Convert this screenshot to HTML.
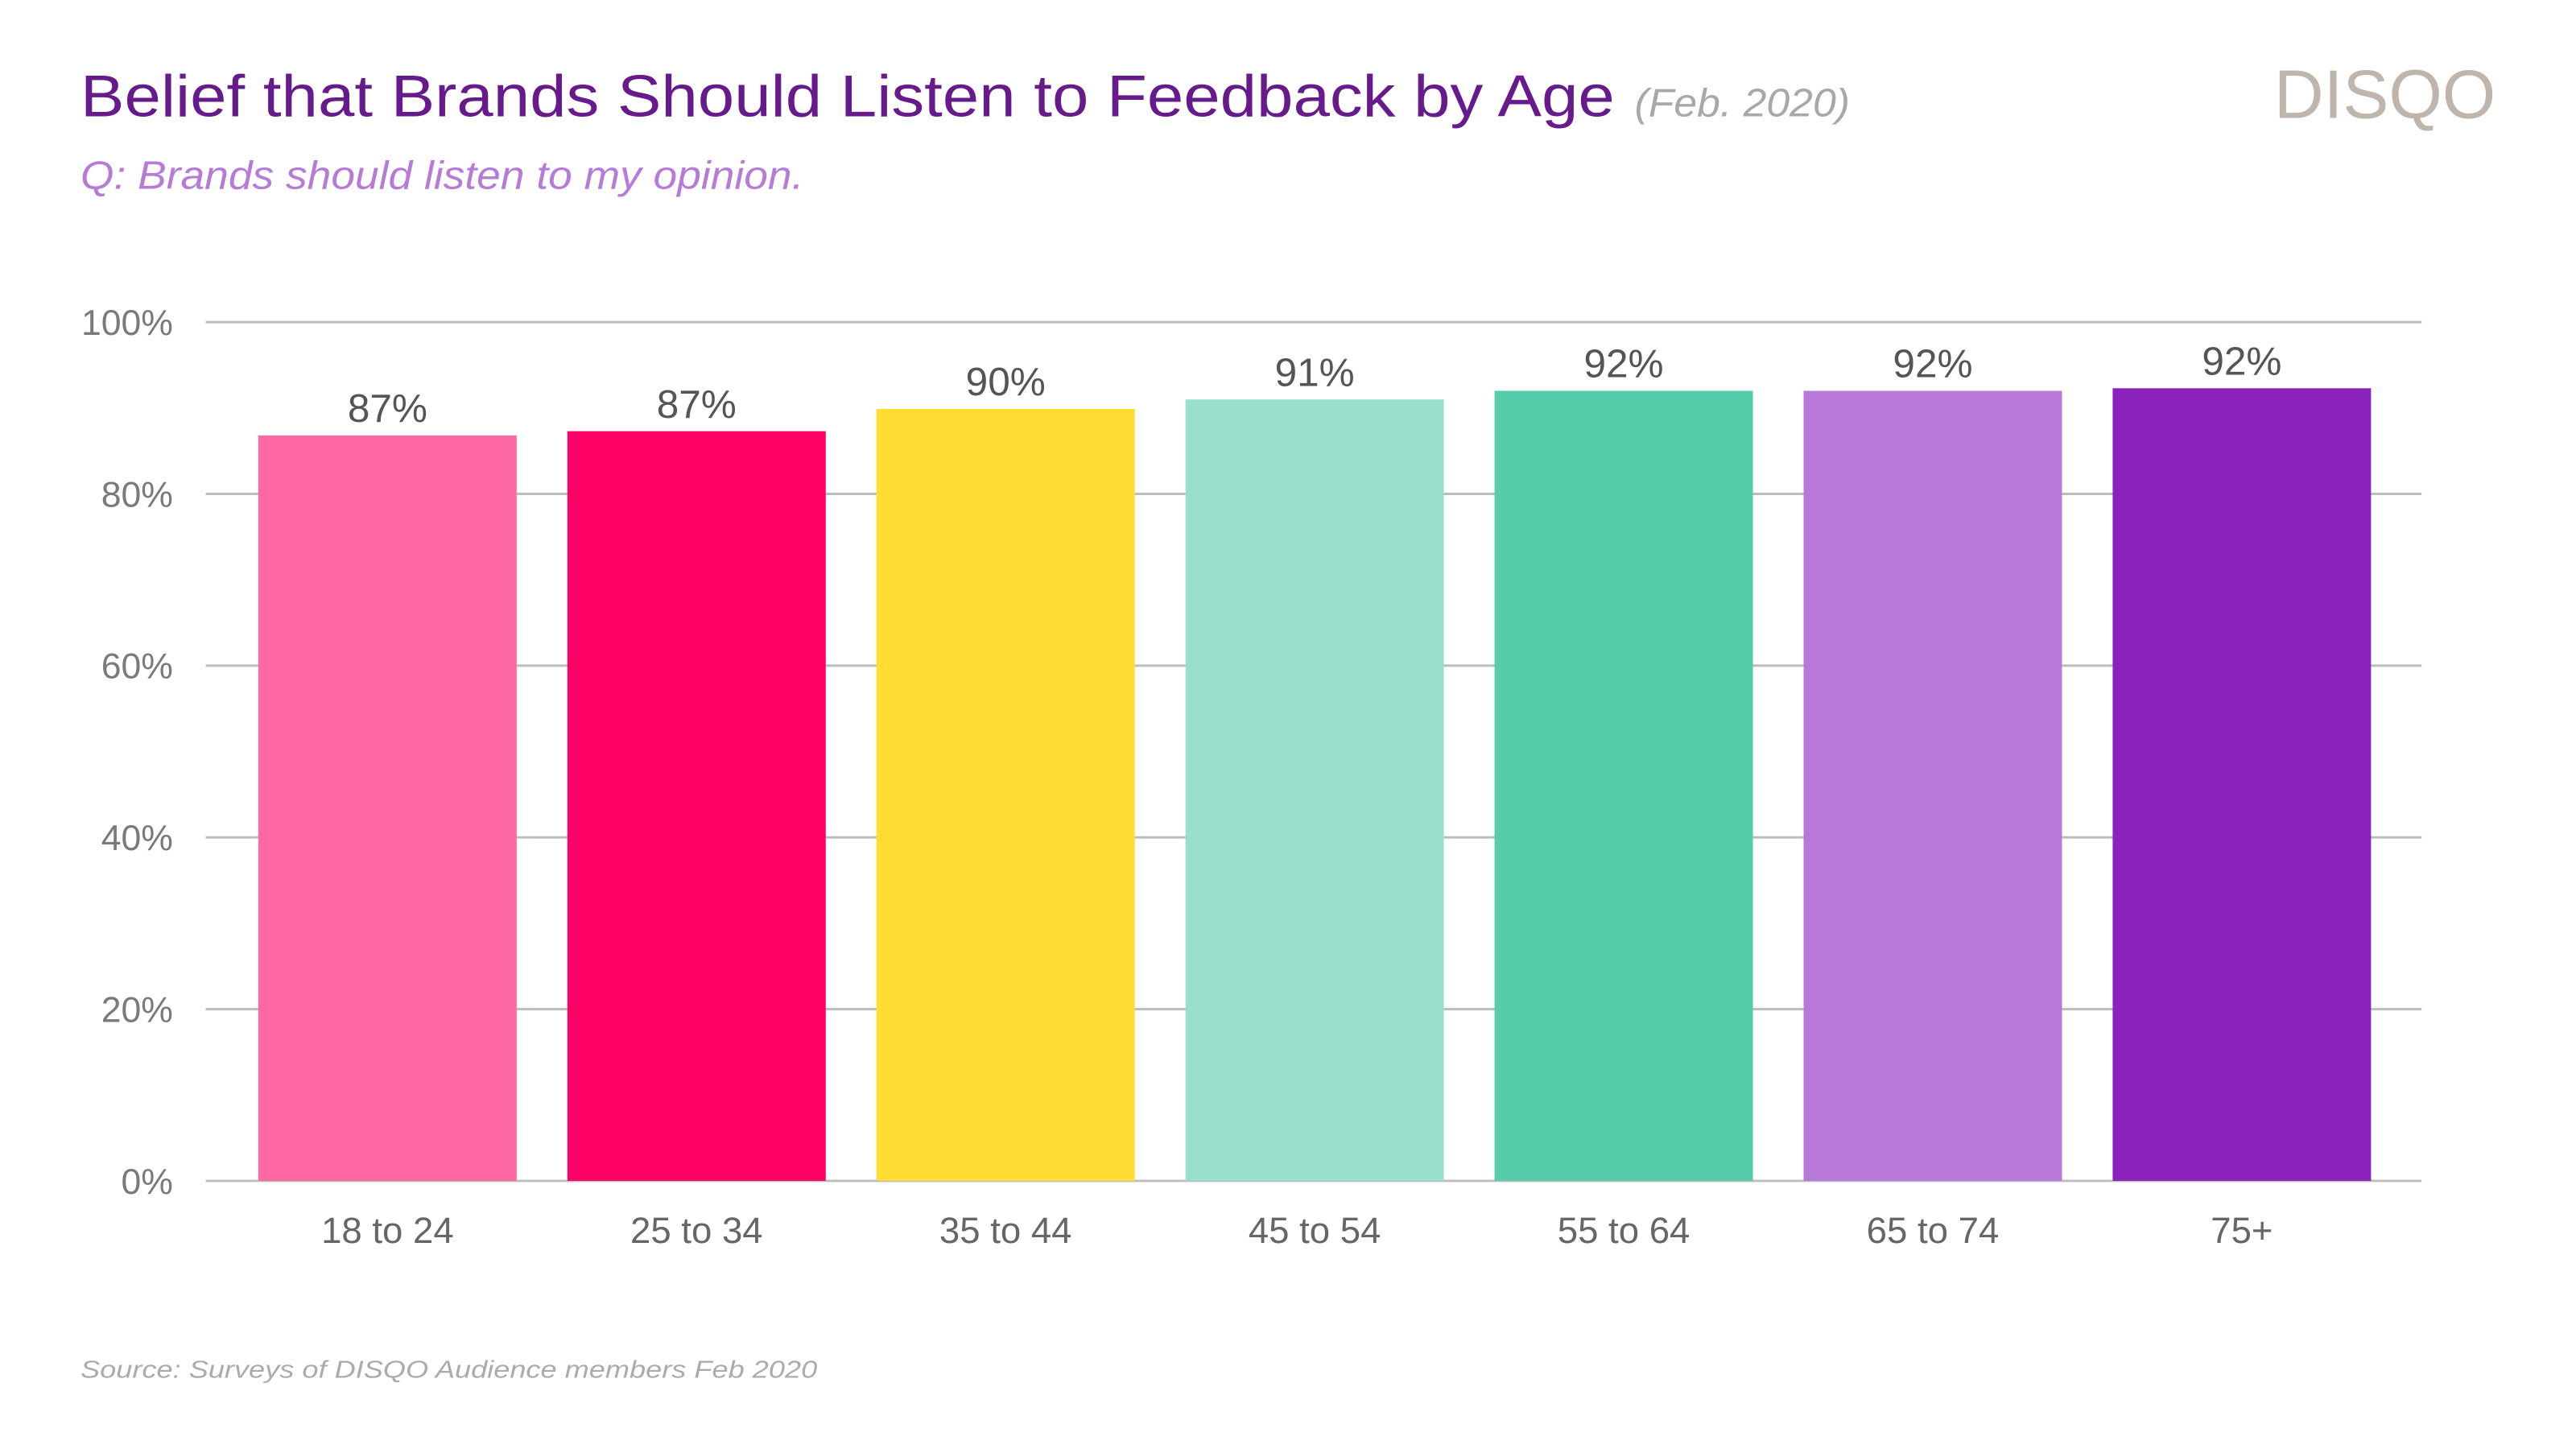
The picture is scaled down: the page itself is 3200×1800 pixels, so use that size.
<!DOCTYPE html>
<html>
<head>
<meta charset="utf-8">
<style>
  html, body { margin: 0; padding: 0; background: #ffffff; }
  svg { display: block; }
  text { font-family: "Liberation Sans", sans-serif; }
</style>
</head>
<body>
<svg id="chart" width="3200" height="1800" viewBox="0 0 3200 1800" xmlns="http://www.w3.org/2000/svg">
  <rect x="0" y="0" width="3200" height="1800" fill="#ffffff"/>
  <g transform="scale(0.9905)">
  <text x="101" y="146" font-size="74" fill="#661a8c" textLength="1924" lengthAdjust="spacingAndGlyphs">Belief that Brands Should Listen to Feedback by Age</text>
  <text x="2050" y="146" font-size="50" font-style="italic" fill="#a8a8a8" textLength="270" lengthAdjust="spacingAndGlyphs">(Feb. 2020)</text>
  <text x="2852" y="148" font-size="86" fill="#bfb5ab" textLength="278" lengthAdjust="spacingAndGlyphs">DISQO</text>
  <text x="101" y="237" font-size="50" font-style="italic" fill="#b57bd6" textLength="907" lengthAdjust="spacingAndGlyphs">Q: Brands should listen to my opinion.</text>
  <g id="grid"></g>
  <g id="yaxis"></g>
  <g id="bars"></g>
  <g id="xaxis"></g>
  <text x="101" y="1728" font-size="31" font-style="italic" fill="#ababab" textLength="924" lengthAdjust="spacingAndGlyphs">Source: Surveys of DISQO Audience members Feb 2020</text>
  </g>
</svg>
<script>
const categories = ["18 to 24", "25 to 34", "35 to 44", "45 to 54", "55 to 64", "65 to 74", "75+"];
const values = [86.8, 87.3, 89.9, 91.0, 92.0, 92.0, 92.3];
const valueLabels = ["87%", "87%", "90%", "91%", "92%", "92%", "92%"];
const yTicks = [0, 20, 40, 60, 80, 100];
const yTickLabels = ["0%", "20%", "40%", "60%", "80%", "100%"];
const barColors = ["#ff69a3", "#ff0066", "#ffdd33", "#99e0cc", "#55cdaa", "#b878d8", "#8a22bb"];

const NS = "http://www.w3.org/2000/svg";
const plotLeft = 258, plotRight = 3037, plotBottom = 1481, plotTop = 404;
const firstCenter = 486, step = 387.6, barWidth = 324;
function y(v) { return plotBottom - (v / 100) * (plotBottom - plotTop); }
function x(i) { return firstCenter + i * step; }
function mk(tag, attrs, parent) {
  const el = document.createElementNS(NS, tag);
  for (const k in attrs) el.setAttribute(k, attrs[k]);
  parent.appendChild(el);
  return el;
}
const grid = document.getElementById("grid");
const yaxis = document.getElementById("yaxis");
const barsG = document.getElementById("bars");
const xaxis = document.getElementById("xaxis");

yTicks.forEach((t, i) => {
  const ln = mk("line", {x1: plotLeft, x2: plotRight, y1: y(t), y2: y(t), stroke: "#bdbdbd", "stroke-width": 3}, grid);
  
  
  const tx = mk("text", {x: 217, y: y(t) + 16, "font-size": 45, fill: "#7a7a7a", "text-anchor": "end"}, yaxis);
  tx.textContent = yTickLabels[i];
  
  
});

categories.forEach((c, i) => {
  const r = mk("rect", {x: x(i) - barWidth / 2, y: y(values[i]), width: barWidth, height: plotBottom - y(values[i]), fill: barColors[i]}, barsG);
  
  
  const vl = mk("text", {x: x(i), y: y(values[i]) - 17, "font-size": 50, fill: "#555555", "text-anchor": "middle"}, barsG);
  vl.textContent = valueLabels[i];
  
  
  const xl = mk("text", {x: x(i), y: 1559, "font-size": 46, fill: "#666666", "text-anchor": "middle"}, xaxis);
  xl.textContent = c;
  
  
});
</script>
</body>
</html>
